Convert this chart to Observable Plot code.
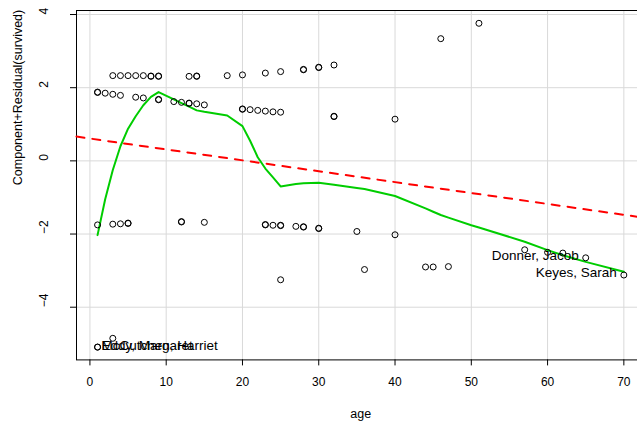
<!DOCTYPE html>
<html>
<head>
<meta charset="utf-8">
<script src="https://cdn.jsdelivr.net/npm/d3@7"></script>
<script src="https://cdn.jsdelivr.net/npm/@observablehq/plot@0.6"></script>
<style>
  html, body { margin: 0; padding: 0; background: #ffffff; }
  #chart { width: 637px; height: 427px; overflow: hidden; }
</style>
</head>
<body>
<div id="chart"></div>
<script>
// Component + residual plot for age in the logistic model of survival (Donner party).

// Partial residuals: one entry per passenger (age, component + residual).
const pointAge = [
  3, 4, 5, 6, 7, 8, 8, 9, 9, 13, 14, 14, 18, 20, 23, 25, 28, 28, 30, 30, 32, 46, 51,
  1, 1, 2, 3, 4, 6, 7, 9, 9, 11, 12, 13, 13, 14, 15, 20, 20, 21, 22, 23, 24, 25, 32, 32, 40,
  1, 3, 4, 5, 5, 12, 12, 15, 23, 23, 24, 25, 25, 27, 28, 28, 30, 30, 35, 40,
  25, 36, 44, 45, 47, 57, 60, 62, 65, 70,
  1, 1, 3
];
const pointResidual = [
  2.33, 2.33, 2.33, 2.33, 2.33, 2.32, 2.31, 2.32, 2.31, 2.31, 2.32, 2.31, 2.33, 2.35, 2.40, 2.44, 2.50, 2.49, 2.56, 2.55, 2.62, 3.34, 3.76,
  1.88, 1.87, 1.85, 1.82, 1.79, 1.74, 1.72, 1.68, 1.67, 1.62, 1.60, 1.58, 1.57, 1.56, 1.53, 1.42, 1.41, 1.40, 1.38, 1.36, 1.34, 1.33, 1.22, 1.21, 1.14,
  -1.75, -1.73, -1.72, -1.71, -1.70, -1.67, -1.66, -1.68, -1.75, -1.74, -1.76, -1.77, -1.76, -1.79, -1.80, -1.81, -1.84, -1.85, -1.93, -2.02,
  -3.25, -2.97, -2.90, -2.90, -2.89, -2.43, -2.50, -2.52, -2.65, -3.12,
  -5.09, -5.09, -4.85
];

// Identified passengers and where their labels sit relative to the point.
const labelName = ["Eddy, Margaret", "McCutchen, Harriet", "Donner, Jacob", "Keyes, Sarah"];
const labelAge = [1, 1, 65, 70];
const labelResidual = [-5.09, -5.09, -2.65, -3.12];
const labelSide = ["right", "right", "left", "left"];

// Linear component (fitted coefficient for age) at the ends of the axis.
const fitAge = [-1.76, 72.76];
const fitValue = [0.663, -1.557];

// Loess smooth of the partial residuals.
const smoothAge = [1, 2, 3, 4, 5, 6, 7, 8, 9, 11, 12, 13, 14, 15, 18, 20, 21, 22, 23, 24, 25, 27, 28, 30, 32, 35, 36, 40, 44, 45, 46, 47, 50, 51, 57, 60, 62, 65, 70];
const smoothValue = [-2.03, -1.05, -0.25, 0.40, 0.88, 1.22, 1.52, 1.75, 1.88, 1.68, 1.58, 1.48, 1.38, 1.34, 1.24, 0.95, 0.55, 0.10, -0.21, -0.45, -0.70, -0.63, -0.61, -0.60, -0.65, -0.74, -0.77, -0.96, -1.30, -1.39, -1.48, -1.55, -1.76, -1.82, -2.21, -2.44, -2.58, -2.76, -3.03];

// Axis ticks.
const xTicks = [0, 10, 20, 30, 40, 50, 60, 70];
const yTicks = [-4, -2, 0, 2, 4];

const xLabel = "age";
const yLabel = "Component+Residual(survived)";

const points = pointAge.map((a, i) => ({age: a, value: pointResidual[i]}));
const labels = labelName.map((n, i) => ({name: n, age: labelAge[i], value: labelResidual[i], side: labelSide[i]}));
const fit = fitAge.map((a, i) => ({age: a, value: fitValue[i]}));
const smooth = smoothAge.map((a, i) => ({age: a, value: smoothValue[i]}));

const fmt = d => String(d).replace("-", "\u2212");
const font = "'Liberation Sans', Arial, Helvetica, sans-serif";

const chart = Plot.plot({
  width: 637,
  height: 427,
  marginLeft: 76,
  marginRight: -7.4,
  marginTop: 10,
  marginBottom: 67.6,
  style: {fontFamily: font, fontSize: "12px", background: "#ffffff", color: "#000000"},
  x: {domain: [-1.76, 72.76], label: null},
  y: {domain: [-5.44, 4.11], label: null},
  marks: [
    Plot.gridX(xTicks, {stroke: "#d9d9d9", strokeOpacity: 1, strokeWidth: 1}),
    Plot.gridY(yTicks, {stroke: "#d9d9d9", strokeOpacity: 1, strokeWidth: 1}),
    Plot.frame({stroke: "#000000", strokeWidth: 1}),
    Plot.axisX(xTicks, {tickSize: 6, tickPadding: 12, tickFormat: fmt, label: null, stroke: "#000000"}),
    Plot.axisY(yTicks, {tickSize: 6, tickFormat: () => "", label: null, stroke: "#000000"}),
    // y tick labels read bottom-to-top, as in base graphics
    Plot.text(yTicks, {y: d => d, frameAnchor: "left", text: fmt, rotate: -90, dx: -29, lineAnchor: "bottom", fill: "#000000", fontSize: 12}),
    Plot.text([yLabel], {frameAnchor: "left", text: d => d, rotate: -90, dx: -59, fill: "#000000", fontSize: 12.5}),
    Plot.text([xLabel], {frameAnchor: "bottom", text: d => d, dy: 58, fill: "#000000", fontSize: 12.5}),
    Plot.line(fit, {x: "age", y: "value", stroke: "#ff0000", strokeWidth: 2, strokeDasharray: "8,8", strokeLinecap: "round"}),
    Plot.line(smooth, {x: "age", y: "value", stroke: "#00cd00", strokeWidth: 2}),
    Plot.dot(points, {x: "age", y: "value", r: 3, stroke: "#000000", strokeWidth: 1, fill: "none"}),
    Plot.text(labels.filter(d => d.side === "right"), {x: "age", y: "value", text: "name", textAnchor: "start", dx: 4, dy: -1, fill: "#000000", fontSize: 13.5}),
    Plot.text(labels.filter(d => d.side === "left"), {x: "age", y: "value", text: "name", textAnchor: "end", dx: -7, dy: -2, fill: "#000000", fontSize: 13.5})
  ]
});

document.getElementById("chart").appendChild(chart);
</script>
</body>
</html>
